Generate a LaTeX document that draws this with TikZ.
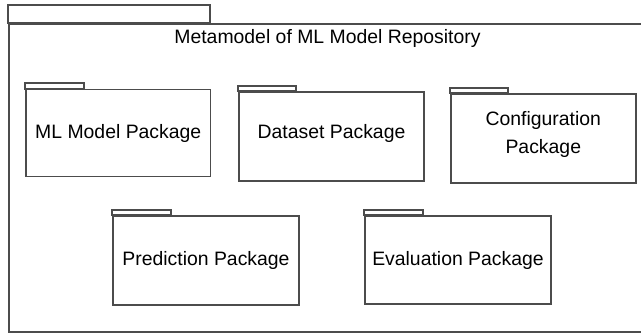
\documentclass[tikz,border=0pt]{standalone}
\usepackage{fontspec}
\setmainfont{Liberation Sans}
\begin{document}
\begin{tikzpicture}[x=1pt,y=-1pt,
  lbl/.style={font=\fontsize{19.4}{28}\selectfont, text=black, align=center, inner sep=0pt},
  pkgbody/.style={draw=black!70, line width=1.9pt, fill=white, inner sep=0pt, lbl},
  pkgtab/.style={draw=black!70, line width=1.9pt, fill=white}]
\useasboundingbox (0,0) rectangle (641,333);
\clip (0,0) rectangle (641,333);
% outer package
\draw[pkgtab] (8,4.7) rectangle (210,22.7);
\node[pkgbody, minimum width=644pt, minimum height=308.3pt, anchor=north west] (outer) at (8,22.7) {};
\node[lbl] (title) at (327.5,38.5) {Metamodel of ML Model Repository};
% packages
\node[pkgbody, minimum width=184.5pt, minimum height=87pt] (ml) at (118.25,133) {ML Model Package};
\draw[pkgtab] (ml.north west) rectangle ++(59,-5.6);
\node[pkgbody, minimum width=185pt, minimum height=89.3pt] (ds) at (331.5,136.3) {};
\node[lbl] (dst) at (331.5,133.5) {Dataset Package};
\draw[pkgtab] (ds.north west) rectangle ++(58,-5);
\node[pkgbody, minimum width=185.3pt, minimum height=89pt] (cfg) at (543.3,138.8) {};
\node[lbl] (cfgt) at (543.3,134) {Configuration\\Package};
\draw[pkgtab] (cfg.north west) rectangle ++(58.3,-5.3);
\node[pkgbody, minimum width=185.4pt, minimum height=89pt] (pred) at (206,260.5) {Prediction Package};
\draw[pkgtab] (pred.north west) rectangle ++(59,-5.5);
\node[pkgbody, minimum width=185.4pt, minimum height=88.6pt] (eval) at (458,260) {Evaluation Package};
\draw[pkgtab] (eval.north west) rectangle ++(58.7,-4.8);
\end{tikzpicture}
\end{document}
